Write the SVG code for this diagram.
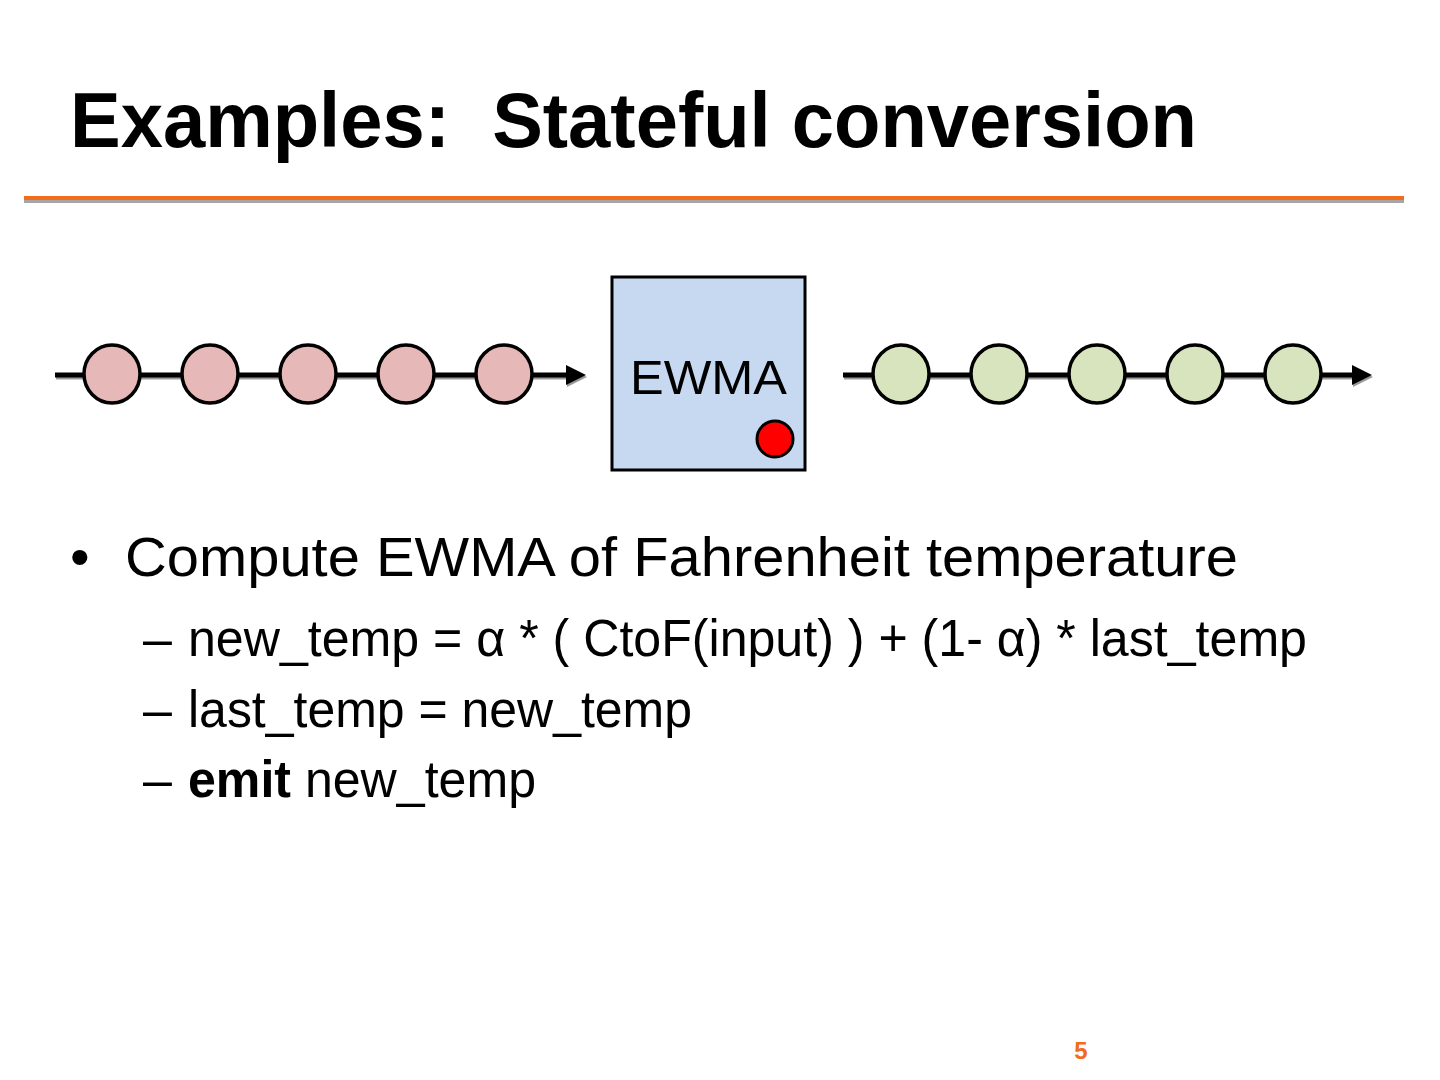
<svg xmlns="http://www.w3.org/2000/svg" width="1440" height="1080" viewBox="0 0 1440 1080">
<defs>
<style>
.t{font-family:"Liberation Sans",Arial,sans-serif;fill:#000}
.ln{stroke:#000;stroke-width:5;fill:none}
.sh{stroke:#999;stroke-width:5;fill:none}
.in{fill:#e6b9b8;stroke:#000;stroke-width:3.5}
.out{fill:#d7e4bd;stroke:#000;stroke-width:3.5}
</style>
<marker id="ah" viewBox="0 0 10 10" refX="2" refY="5" markerWidth="4" markerHeight="4" orient="auto" markerUnits="strokeWidth"><path d="M0,0 L10,5 L0,10 z" fill="#000"/></marker>
<marker id="ahs" viewBox="0 0 10 10" refX="2" refY="5" markerWidth="4" markerHeight="4" orient="auto" markerUnits="strokeWidth"><path d="M0,0 L10,5 L0,10 z" fill="#999"/></marker>
</defs>
<rect width="1440" height="1080" fill="#fff"/>
<text class="t" x="70" y="147" font-size="77" font-weight="bold" textLength="1127" lengthAdjust="spacingAndGlyphs">Examples:&#160; Stateful conversion</text>
<rect x="24" y="200" width="1380" height="3" fill="#a6a6a6"/>
<rect x="24" y="196" width="1380" height="4" fill="#f26c1c"/>
<g id="connectors">
<line class="sh" x1="56" y1="377" x2="571" y2="377" marker-end="url(#ahs)"/>
<line class="ln" x1="55" y1="375" x2="570" y2="375" marker-end="url(#ah)"/>
<line class="sh" x1="844" y1="377" x2="1357" y2="377" marker-end="url(#ahs)"/>
<line class="ln" x1="843" y1="375" x2="1356" y2="375" marker-end="url(#ah)"/>
</g>
<g id="input-stream">
<ellipse class="in" cx="112" cy="374" rx="28" ry="29"/>
<ellipse class="in" cx="210" cy="374" rx="28" ry="29"/>
<ellipse class="in" cx="308" cy="374" rx="28" ry="29"/>
<ellipse class="in" cx="406" cy="374" rx="28" ry="29"/>
<ellipse class="in" cx="504" cy="374" rx="28" ry="29"/>
</g>
<g id="ewma">
<rect x="612" y="277" width="193" height="193" fill="#c6d9f1" stroke="#000" stroke-width="3"/>
<text class="t" x="630" y="394" font-size="48" textLength="157" lengthAdjust="spacingAndGlyphs">EWMA</text>
<circle cx="775" cy="439" r="18" fill="#ff0000" stroke="#000" stroke-width="3"/>
</g>
<g id="output-stream">
<ellipse class="out" cx="901" cy="374" rx="28" ry="29"/>
<ellipse class="out" cx="999" cy="374" rx="28" ry="29"/>
<ellipse class="out" cx="1097" cy="374" rx="28" ry="29"/>
<ellipse class="out" cx="1195" cy="374" rx="28" ry="29"/>
<ellipse class="out" cx="1293" cy="374" rx="28" ry="29"/>
</g>
<text class="t" x="70" y="576" font-size="56">•</text>
<text class="t" x="125" y="576" font-size="56" textLength="1113" lengthAdjust="spacingAndGlyphs">Compute EWMA of Fahrenheit temperature</text>
<text class="t" x="143" y="656" font-size="52">–</text>
<text class="t" x="188" y="656" font-size="52" textLength="1119" lengthAdjust="spacingAndGlyphs">new_temp = α * ( CtoF(input) ) + (1- α) * last_temp</text>
<text class="t" x="143" y="727" font-size="52">–</text>
<text class="t" x="188" y="727" font-size="52" textLength="504" lengthAdjust="spacingAndGlyphs">last_temp = new_temp</text>
<text class="t" x="143" y="797" font-size="52">–</text>
<text class="t" x="188" y="797" font-size="52" textLength="348" lengthAdjust="spacingAndGlyphs"><tspan font-weight="bold">emit</tspan> new_temp</text>
<text x="1081" y="1059" font-family="Liberation Sans,Arial,sans-serif" font-size="24" font-weight="bold" fill="#f26c1c" text-anchor="middle">5</text>
</svg>
